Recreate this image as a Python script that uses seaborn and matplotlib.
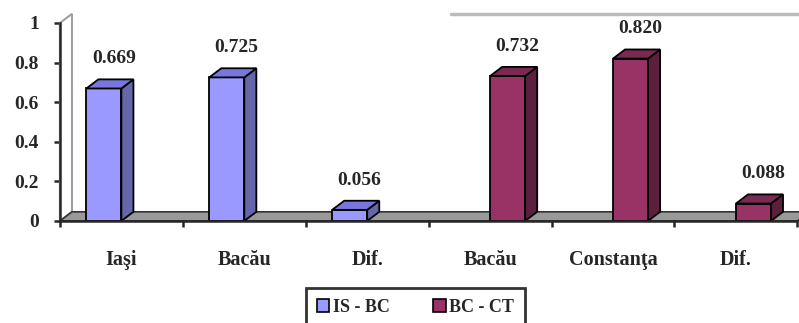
import matplotlib
matplotlib.use("Agg")
import matplotlib.pyplot as plt
from matplotlib.patches import Polygon
from matplotlib.lines import Line2D
from matplotlib.colors import to_hex
import seaborn as sns
import pandas as pd

# Data
sites = ["Iaşi", "Bacău", "Dif.", "Bacău", "Constanţa", "Dif."]
pairs = ["IS - BC", "IS - BC", "IS - BC", "BC - CT", "BC - CT", "BC - CT"]
values = [0.669, 0.725, 0.056, 0.732, 0.820, 0.088]
series = ["IS - BC", "BC - CT"]
yticks = [0, 0.2, 0.4, 0.6, 0.8, 1]
ytick_labels = ["0", "0.2", "0.4", "0.6", "0.8", "1"]

front = {"IS - BC": "#9999ff", "BC - CT": "#993366"}
side = {"IS - BC": "#6666aa", "BC - CT": "#5c1f3d"}
top = {"IS - BC": "#7777dd", "BC - CT": "#7a2952"}
by_front = {v: k for k, v in front.items()}

keys = [f"k{i}" for i in range(len(sites))]
df = pd.DataFrame({"key": keys, "site": sites, "pair": pairs, "value": values})

sns.set_style("white")
plt.rcParams["font.family"] = ["Liberation Serif", "DejaVu Serif"]
plt.rcParams["font.weight"] = "bold"

fig = plt.figure(figsize=(7.99, 3.23), dpi=100)
ax = fig.add_axes([0.075, 0.316, 0.923, 0.613])

sns.barplot(data=df, x="key", y="value", hue="pair", order=keys,
            hue_order=series, palette=front, saturation=1, dodge=True,
            width=0.57, edgecolor="black", linewidth=1.3, legend=False,
            ax=ax, zorder=3)

ax.set_xlim(-0.5, len(keys) - 0.5)
ax.set_ylim(0, 1)

# depth of the pseudo-3D extrusion, in data units
dx, dy = 0.098, 0.046
x0a, x1a = -0.5, len(keys) - 0.5

# side wall on the left
wall = Polygon([(x0a, 0), (x0a + dx, dy), (x0a + dx, 1 + dy), (x0a, 1)],
               closed=True, facecolor="white", edgecolor="#A0A0A0",
               linewidth=1.5, clip_on=False, zorder=1)
ax.add_patch(wall)
# floor
floor = Polygon([(x0a, 0), (x1a, 0), (x1a + dx, dy), (x0a + dx, dy)],
                closed=True, facecolor="#999999", edgecolor="#333333",
                linewidth=1.2, clip_on=False, zorder=2)
ax.add_patch(floor)
# back wall top edge
ax.add_line(Line2D([2.68, x1a + dx], [1 + dy, 1 + dy], color="#BBBBBB",
                   linewidth=2.5, clip_on=False, zorder=1))

# extrude each bar and label it
bars = [p for p in ax.patches if isinstance(p, matplotlib.patches.Rectangle)
        and p.get_height() > 0]
for p in bars:
    bx0 = p.get_x()
    bx1 = bx0 + p.get_width()
    h = p.get_height()
    name = by_front[to_hex(p.get_facecolor())]
    ax.add_patch(Polygon([(bx1, 0), (bx1 + dx, dy), (bx1 + dx, h + dy), (bx1, h)],
                         closed=True, facecolor=side[name], edgecolor="black",
                         linewidth=1.3, clip_on=False, zorder=3))
    ax.add_patch(Polygon([(bx0, h), (bx0 + dx, h + dy), (bx1 + dx, h + dy), (bx1, h)],
                         closed=True, facecolor=top[name], edgecolor="black",
                         linewidth=1.3, clip_on=False, zorder=3))
    ax.text((bx0 + bx1) / 2 + 0.08, h + 0.15, f"{h:.3f}", ha="center",
            va="center", fontsize=14, fontweight="bold", zorder=4)

# axes styling
for s in ["top", "right"]:
    ax.spines[s].set_visible(False)
ax.spines["left"].set_linewidth(1.8)
ax.spines["bottom"].set_linewidth(1.8)
ax.spines["left"].set_zorder(5)
ax.spines["bottom"].set_zorder(5)

ax.set_yticks(yticks)
ax.set_yticklabels(ytick_labels, fontsize=14, fontweight="bold")
ax.tick_params(axis="y", direction="out", length=4, width=1.8, pad=11, left=True)

ax.set_xticks([i - 0.5 for i in range(len(keys) + 1)])
ax.set_xticklabels([])
ax.set_xticks(range(len(keys)), minor=True)
ax.set_xticklabels(sites, minor=True, fontsize=14.5, fontweight="bold")
ax.tick_params(axis="x", which="major", direction="out", length=4, width=1.8,
               bottom=True)
ax.tick_params(axis="x", which="minor", length=0, pad=21)
ax.set_xlabel("")
ax.set_ylabel("")

handles = [Polygon([(0, 0)], facecolor=front[s], edgecolor="black", linewidth=1.2)
           for s in series]
leg = fig.legend(handles, series, loc="upper center", bbox_to_anchor=(0.52, 0.108),
                 ncol=2, frameon=True, fancybox=False, edgecolor="black",
                 prop={"size": 13, "weight": "bold"}, handlelength=0.7,
                 handleheight=0.7, handletextpad=0.2, columnspacing=2.4,
                 borderpad=0.6, borderaxespad=0.0)
leg.get_frame().set_linewidth(2)

fig.savefig("out.png", dpi=100)
